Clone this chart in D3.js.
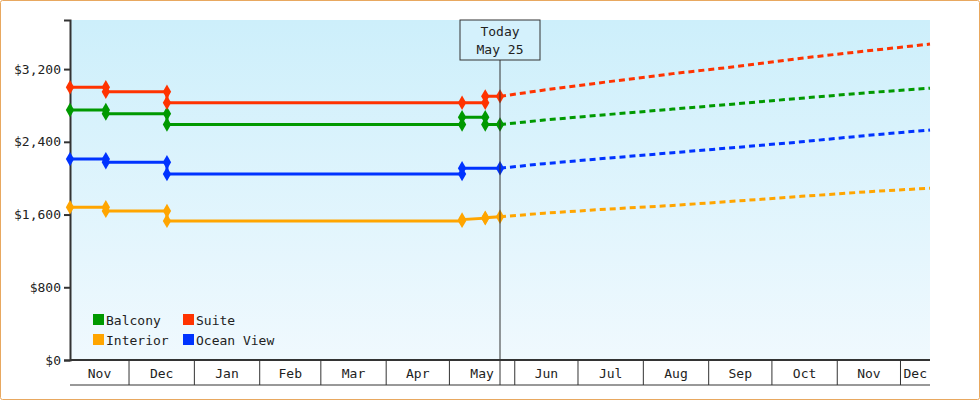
<!DOCTYPE html>
<html><head><meta charset="utf-8">
<script src="https://cdn.jsdelivr.net/npm/d3@7"></script>
<style>
body{margin:0;background:#fff;}
text{font-family:"DejaVu Sans Mono",monospace;font-size:13px;fill:#222;}
</style></head>
<body><svg id="chart" width="980" height="400"></svg>
<script>
// price history: [date, value], repeated dates make the steps
const seriesNames = ['Balcony', 'Suite', 'Interior', 'Ocean View'];
const seriesColors = ['#009900', '#ff3300', '#ffa500', '#0033ff'];
const balcony = [['2023-11-03',2750],['2023-11-20',2750],['2023-11-20',2710],['2023-12-19',2710],['2023-12-19',2590],['2024-05-07',2590],['2024-05-07',2670],['2024-05-18',2670],['2024-05-18',2590],['2024-05-25',2590]];
const suite = [['2023-11-03',3000],['2023-11-20',3000],['2023-11-20',2950],['2023-12-19',2950],['2023-12-19',2830],['2024-05-07',2830],['2024-05-18',2830],['2024-05-18',2900],['2024-05-25',2900]];
const interior = [['2023-11-03',1680],['2023-11-20',1680],['2023-11-20',1640],['2023-12-19',1640],['2023-12-19',1530],['2024-05-07',1530],['2024-05-07',1545],['2024-05-18',1560],['2024-05-18',1565],['2024-05-25',1575]];
const oceanView = [['2023-11-03',2210],['2023-11-20',2210],['2023-11-20',2175],['2023-12-19',2175],['2023-12-19',2045],['2024-05-07',2045],['2024-05-07',2110],['2024-05-25',2110]];
// forecast (dashed)
const forecastDates = ['2024-05-25','2024-06-15','2024-07-15','2024-08-15','2024-09-15','2024-10-15','2024-11-15','2024-12-15'];
const balconyForecast = [2590,2640,2700,2760,2820,2880,2940,2990];
const suiteForecast = [2900,2970,3060,3150,3230,3320,3400,3475];
const interiorForecast = [1575,1615,1660,1700,1750,1800,1850,1890];
const oceanForecast = [2110,2160,2220,2280,2340,2400,2470,2530];
const yTicks = [0,800,1600,2400,3200];

const history = [balcony, suite, interior, oceanView];
const forecast = [balconyForecast, suiteForecast, interiorForecast, oceanForecast];
const parse = d3.timeParse('%Y-%m-%d');

const margin = {top:20, right:50, bottom:40, left:70};
const width = 980, height = 400;
const iw = width - margin.left - margin.right;
const ih = height - margin.top - margin.bottom;

const svg = d3.select('#chart');
svg.append('rect').attr('x',0.5).attr('y',0.5).attr('width',width-1).attr('height',height-1)
    .attr('fill','#fff').attr('stroke','#e8a860').attr('rx',2);

const defs = svg.append('defs');
const grad = defs.append('linearGradient').attr('id','bg').attr('x1',0).attr('x2',0).attr('y1',0).attr('y2',1);
grad.append('stop').attr('offset','0%').attr('stop-color','#cdeffb');
grad.append('stop').attr('offset','100%').attr('stop-color','#f0f9fe');

const chart = svg.append('g').attr('transform', `translate(${margin.left},${margin.top})`);
chart.append('rect').attr('width',iw).attr('height',ih).attr('fill','url(#bg)');

const xscale = d3.scaleTime().domain([parse('2023-11-03'), parse('2024-12-15')]).range([0, iw]);
const yscale = d3.scaleLinear().domain([0, 3740]).range([ih, 0]);

// y axis
const yaxis = d3.axisLeft(yscale).tickValues(yTicks).tickSize(6).tickPadding(3)
    .tickFormat(d => '$' + d3.format(',')(d));
const yg = chart.append('g').call(yaxis);
yg.select('.domain').attr('stroke','#333').attr('stroke-width',2);
yg.selectAll('line').attr('stroke','#333').attr('stroke-width',2);
yg.selectAll('text').style('font-size','13px');

// x axis as month bands
const xg = chart.append('g').attr('transform', `translate(0,${ih})`);
const months = d3.timeMonth.range(d3.timeMonth.floor(xscale.domain()[0]), xscale.domain()[1]);
xg.append('line').attr('x1',0).attr('x2',iw).attr('y1',0).attr('y2',0).attr('stroke','#333').attr('stroke-width',2);
xg.append('line').attr('x1',0).attr('x2',iw).attr('y1',25).attr('y2',25).attr('stroke','#333');
months.forEach(m => {
    const a = Math.max(0, xscale(m));
    const b = Math.min(iw, xscale(d3.timeMonth.offset(m,1)));
    if (xscale(m) > 0)
        xg.append('line').attr('x1',a).attr('x2',a).attr('y1',0).attr('y2',25).attr('stroke','#333');
    xg.append('text').attr('x',(a+b)/2).attr('y',18).attr('text-anchor','middle')
        .text(d3.timeFormat('%b')(m));
});

// history lines
const line = d3.line().x(d => xscale(parse(d[0]))).y(d => yscale(d[1]));
const diamond = d3.symbol().type(d3.symbolDiamond).size(60);
history.forEach((s, i) => {
    chart.append('path').attr('d', line(s)).attr('fill','none')
        .attr('stroke', seriesColors[i]).attr('stroke-width',3);
    chart.selectAll(null).data(s).enter().append('path')
        .attr('d', diamond)
        .attr('transform', d => `translate(${xscale(parse(d[0]))},${yscale(d[1])})`)
        .attr('fill', seriesColors[i]);
});

// forecast lines
forecast.forEach((vals, i) => {
    const pts = forecastDates.map((d, j) => [d, vals[j]]);
    chart.append('path').attr('d', line(pts)).attr('fill','none')
        .attr('stroke', seriesColors[i]).attr('stroke-width',3).attr('stroke-dasharray','6,4');
});

// today marker
const tx = xscale(parse('2024-05-25'));
chart.append('line').attr('x1',tx).attr('x2',tx).attr('y1',40).attr('y2',ih+25).attr('stroke','#333');
chart.append('rect').attr('x',tx-40).attr('y',0).attr('width',80).attr('height',40)
    .attr('fill','#d4f1fc').attr('stroke','#333');
chart.append('text').attr('x',tx).attr('y',16).attr('text-anchor','middle').text('Today');
chart.append('text').attr('x',tx).attr('y',34).attr('text-anchor','middle').text('May 25');

// legend
const legend = chart.append('g').attr('transform','translate(23,294)');
seriesNames.forEach((n, i) => {
    const g = legend.append('g').attr('transform', `translate(${(i%2)*90},${Math.floor(i/2)*20})`);
    g.append('rect').attr('width',11).attr('height',11).attr('fill',seriesColors[i]);
    g.append('text').attr('x',13).attr('y',11).text(n);
});
</script></body></html>
